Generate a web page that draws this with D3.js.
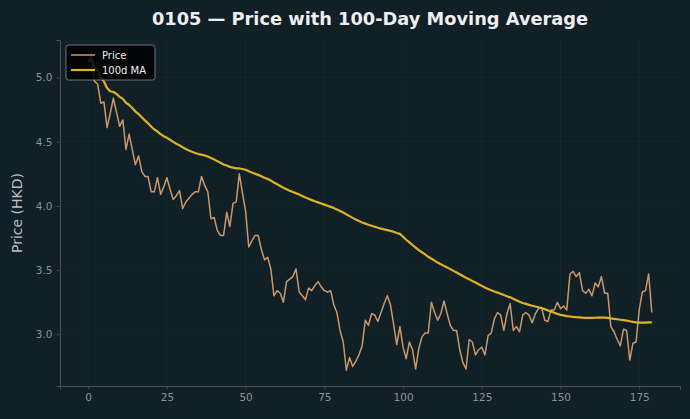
<!DOCTYPE html>
<html>
<head>
<meta charset="utf-8">
<script src="https://cdn.jsdelivr.net/npm/d3@7/dist/d3.min.js"></script>
<style>
  html, body { margin: 0; padding: 0; background: #111f27; }
  svg { display: block; }
</style>
</head>
<body>
<svg id="chart" width="690" height="419"></svg>
<script>
const title = "0105 — Price with 100-Day Moving Average";
const yLabel = "Price (HKD)";
const seriesNames = ["Price", "100d MA"];
const maWindow = 100;
const xTicks = [0, 25, 50, 75, 100, 125, 150, 175];
const yTicks = [3.0, 3.5, 4.0, 4.5, 5.0];

// daily closing price, day index 0..179
const price = [
  5.12, 5.17, 4.97, 4.95, 4.80, 4.81, 4.61, 4.72, 4.84, 4.73,
  4.62, 4.67, 4.44, 4.56, 4.44, 4.32, 4.39, 4.27, 4.23, 4.23,
  4.11, 4.11, 4.22, 4.09, 4.15, 4.22, 4.13, 4.05, 4.08, 4.12,
  3.98, 4.03, 4.06, 4.09, 4.11, 4.11, 4.23, 4.16, 4.11, 3.90,
  3.91, 3.81, 3.77, 3.77, 3.95, 3.84, 4.02, 4.03, 4.25, 4.10,
  3.96, 3.68, 3.73, 3.77, 3.77, 3.66, 3.58, 3.60, 3.51, 3.30,
  3.34, 3.32, 3.25, 3.41, 3.43, 3.45, 3.51, 3.33, 3.30, 3.27,
  3.36, 3.34, 3.38, 3.41, 3.37, 3.34, 3.33, 3.34, 3.23, 3.17,
  3.03, 2.94, 2.72, 2.82, 2.75, 2.79, 2.84, 2.91, 3.11, 3.07,
  3.16, 3.15, 3.10, 3.17, 3.24, 3.30, 3.23, 3.08, 2.92, 3.06,
  2.90, 2.81, 2.94, 2.88, 2.73, 2.89, 2.98, 3.01, 3.01, 3.25,
  3.17, 3.11, 3.16, 3.26, 3.16, 3.07, 3.03, 3.03, 2.88, 2.78,
  2.73, 2.96, 2.94, 2.84, 2.88, 2.90, 2.84, 2.99, 3.01, 3.12,
  3.17, 3.15, 3.03, 3.16, 3.24, 3.03, 3.06, 3.02, 3.15, 3.17,
  3.15, 3.09, 3.16, 3.20, 3.21, 3.11, 3.10, 3.19, 3.19, 3.25,
  3.20, 3.22, 3.19, 3.47, 3.49, 3.45, 3.48, 3.34, 3.32, 3.35,
  3.30, 3.40, 3.37, 3.45, 3.32, 3.32, 3.06, 3.02, 2.96, 2.91,
  3.04, 3.03, 2.80, 2.93, 2.94, 3.19, 3.33, 3.34, 3.47, 3.17
];

// 100-day moving average (expanding until 100 days are available)
const ma = price.map((_, i) => {
  const s = price.slice(Math.max(0, i - maWindow + 1), i + 1);
  return d3.mean(s);
});

const colors = { bg: "#111f27", price: "#c9986a", ma: "#dcb325", axis: "#4a5257", tick: "#8a9298", text: "#eeeeee", label: "#b8bec2", grid: "rgba(255,255,255,0.035)" };

const W = 690, H = 419;
const m = { left: 60, right: 10, top: 40, bottom: 33 };
const svg = d3.select("#chart");
svg.append("rect").attr("width", W).attr("height", H).attr("fill", colors.bg);

const n = price.length;
const xPad = (n - 1) * 0.05;
const x = d3.scaleLinear().domain([-xPad, n - 1 + xPad]).range([m.left, W - m.right]);
const yMin = d3.min(price.concat(ma)), yMax = d3.max(price.concat(ma));
const yPad = (yMax - yMin) * 0.05;
const y = d3.scaleLinear().domain([yMin - yPad, yMax + yPad]).range([H - m.bottom, m.top]);

// grid
const g = svg.append("g");
g.selectAll(".gx").data(xTicks).join("line")
  .attr("x1", d => x(d)).attr("x2", d => x(d))
  .attr("y1", m.top).attr("y2", H - m.bottom)
  .attr("stroke", colors.grid).attr("stroke-width", 0.8);
g.selectAll(".gy").data(yTicks).join("line")
  .attr("x1", m.left).attr("x2", W - m.right)
  .attr("y1", d => y(d)).attr("y2", d => y(d))
  .attr("stroke", colors.grid).attr("stroke-width", 0.8);

// axes
const xAxis = svg.append("g").attr("transform", `translate(0,${H - m.bottom})`)
  .call(d3.axisBottom(x).tickValues(xTicks).tickSize(3.5).tickPadding(4).tickFormat(d3.format("d")));
const yAxis = svg.append("g").attr("transform", `translate(${m.left},0)`)
  .call(d3.axisLeft(y).tickValues(yTicks).tickSize(3.5).tickPadding(4).tickFormat(d3.format(".1f")));
[xAxis, yAxis].forEach(a => {
  a.select(".domain").attr("stroke", colors.axis).attr("stroke-width", 1);
  a.selectAll(".tick line").attr("stroke", colors.axis).attr("stroke-width", 0.8);
  a.selectAll(".tick text").attr("fill", colors.tick).attr("font-family", "DejaVu Sans").attr("font-size", 10.5);
});

// lines
const line = d3.line().x((d, i) => x(i)).y(d => y(d));
svg.append("path").datum(price).attr("d", line).attr("fill", "none")
  .attr("stroke", colors.price).attr("stroke-width", 1.5).attr("stroke-linejoin", "round");
svg.append("path").datum(ma).attr("d", line).attr("fill", "none")
  .attr("stroke", colors.ma).attr("stroke-width", 2.2).attr("stroke-linejoin", "round");

// title & label
svg.append("text").attr("x", 370).attr("y", 25).attr("text-anchor", "middle")
  .attr("font-family", "DejaVu Sans").attr("font-weight", "bold").attr("font-size", 17.8)
  .attr("fill", colors.text).text(title);
svg.append("text").attr("transform", `translate(22,${(m.top + H - m.bottom) / 2}) rotate(-90)`)
  .attr("text-anchor", "middle").attr("font-family", "DejaVu Sans").attr("font-size", 14)
  .attr("fill", colors.label).text(yLabel);

// legend
const lg = svg.append("g").attr("transform", "translate(66,45)");
lg.append("rect").attr("width", 89).attr("height", 35).attr("rx", 2.5)
  .attr("fill", "rgba(0,0,0,0.85)").attr("stroke", "#8a8f93").attr("stroke-width", 0.8);
const legendColors = [colors.price, colors.ma];
const legendWidths = [1.5, 2.2];
seriesNames.forEach((s, i) => {
  const yy = 10 + i * 15;
  lg.append("line").attr("x1", 5).attr("x2", 29).attr("y1", yy).attr("y2", yy)
    .attr("stroke", legendColors[i]).attr("stroke-width", legendWidths[i]);
  lg.append("text").attr("x", 36).attr("y", yy + 3.5).attr("font-family", "DejaVu Sans")
    .attr("font-size", 10).attr("fill", "#eeeeee").text(s);
});
</script>
</body>
</html>
